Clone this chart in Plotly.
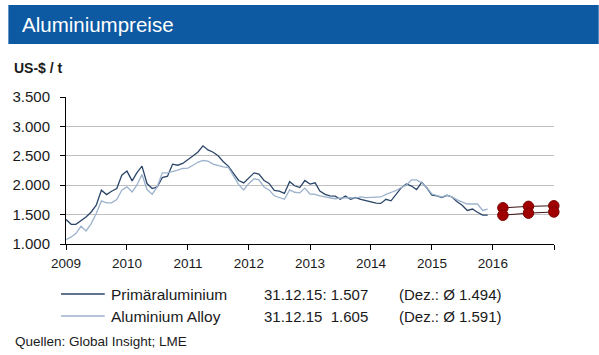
import pandas as pd
import plotly.graph_objects as go

# ---- data (US$/t, monthly averages Jan 2009 - Dec 2015) ----
months = pd.date_range("2009-01-01", "2015-12-01", freq="MS")

primaer = [
    1415, 1335, 1335, 1403, 1460, 1545, 1660, 1915, 1840, 1898, 1943, 2170,   # 2009
    2240, 2074, 2210, 2324, 2028, 1943, 1970, 2130, 2153, 2358, 2340, 2370,   # 2010
    2440, 2500, 2560, 2670, 2600, 2560, 2500, 2400, 2320, 2200, 2080, 2040,   # 2011
    2130, 2210, 2190, 2080, 2030, 1910, 1900, 1860, 2060, 1990, 1960, 2080,   # 2012
    2020, 2040, 1900, 1845, 1820, 1815, 1760, 1815, 1760, 1790, 1760, 1735,   # 2013
    1720, 1695, 1690, 1760, 1735, 1840, 1955, 2020, 1985, 1925, 2050, 1955,   # 2014
    1830, 1817, 1790, 1828, 1800, 1720, 1660, 1570, 1594, 1540, 1490, 1490,   # 2015
]
alloy = [
    1074, 1120, 1176, 1301, 1222, 1347, 1517, 1733, 1700, 1700, 1756, 1915,   # 2009
    1972, 1886, 2000, 2182, 1926, 1847, 1972, 2210, 2210, 2227, 2255, 2284,   # 2010
    2290, 2340, 2390, 2420, 2410, 2360, 2330, 2310, 2300, 2150, 2010, 1920,   # 2011
    2030, 2110, 2090, 1970, 1920, 1820, 1790, 1760, 1920, 1880, 1870, 1950,   # 2012
    1850, 1845, 1820, 1800, 1790, 1770, 1780, 1790, 1790, 1780, 1800, 1790,   # 2013
    1790, 1790, 1800, 1845, 1880, 1910, 1960, 2000, 2090, 2090, 2040, 1960,   # 2014
    1850, 1830, 1800, 1830, 1800, 1750, 1720, 1680, 1680, 1680, 1570, 1595,   # 2015
]

prognose_dates = ["2016-03-01", "2016-08-01", "2016-12-31"]
prognose_alloy = [1615, 1640, 1650]
prognose_primaer = [1490, 1525, 1545]

year_ticks = [f"{y}-01-01" for y in range(2009, 2018)]
year_labels = [str(y) for y in range(2009, 2017)] + [""]
y_ticks = [1000, 1500, 2000, 2500, 3000, 3500]
y_labels = ["1.000", "1.500", "2.000", "2.500", "3.000", "3.500"]

legend_names = ["Primäraluminium", "Aluminium Alloy"]
legend_last = ["31.12.15: 1.507", "31.12.15  1.605"]
legend_avg = ["(Dez.: Ø 1.494)", "(Dez.: Ø 1.591)"]

# ---- styling ----
C_PRIM = "#2b4669"
C_ALLOY = "#9cb2cc"
C_RED = "#a00000"
FONT = "Arial, Liberation Sans, sans-serif"
TXT = "#1a1a1a"

W, H = 599, 355
L, R, T, B = 63, 554, 97, 244  # plot area in px


def px(x):
    return (x - L) / (R - L)


def py(y):
    return (B - y) / (B - T)


fig = go.Figure()
fig.add_trace(go.Scatter(x=months, y=primaer, mode="lines",
                         line=dict(color=C_PRIM, width=1.3), showlegend=False))
fig.add_trace(go.Scatter(x=months, y=alloy, mode="lines",
                         line=dict(color=C_ALLOY, width=1.3), showlegend=False))
for vals in (prognose_alloy, prognose_primaer):
    fig.add_trace(go.Scatter(
        x=prognose_dates, y=vals, mode="lines+markers", cliponaxis=False,
        line=dict(color="#3a1010", width=1),
        marker=dict(color=C_RED, size=10.5, line=dict(color="#7a0000", width=1)),
        showlegend=False))

fig.update_layout(
    width=W, height=H,
    margin=dict(l=L, r=W - R, t=T, b=H - B),
    paper_bgcolor="white", plot_bgcolor="white",
    font=dict(family=FONT, size=13, color=TXT),
    showlegend=False,
)
fig.update_xaxes(
    type="date", range=["2009-01-01", "2017-01-01"],
    tickmode="array", tickvals=year_ticks, ticktext=year_labels,
    showgrid=False, showline=True, linecolor="black", linewidth=1,
    ticks="outside", ticklen=5, tickcolor="black", ticklabelstandoff=2,
    tickfont=dict(size=13.5, family=FONT, color=TXT), zeroline=False,
)
fig.update_yaxes(
    range=[1000, 3500], tickmode="array", tickvals=y_ticks, ticktext=y_labels,
    showgrid=True, gridcolor="#c0c0c0", gridwidth=1,
    showline=True, linecolor="black", linewidth=1,
    ticks="outside", ticklen=5, tickcolor="black", ticklabelstandoff=7,
    tickfont=dict(size=15, family=FONT, color=TXT), zeroline=False,
)

shapes = []
annotations = []
# header band
shapes.append(dict(type="rect", xref="paper", yref="paper",
                   x0=px(5), x1=px(599), y0=py(44), y1=py(5),
                   fillcolor="#0d5aa3", line=dict(width=0), layer="below"))
annotations.append(dict(text="Aluminiumpreise", xref="paper", yref="paper",
                        x=px(17), y=py(25), xanchor="left", yanchor="middle",
                        showarrow=False, font=dict(size=20.5, color="white", family=FONT)))
annotations.append(dict(text="<b>US-$ / t</b>", xref="paper", yref="paper",
                        x=px(9), y=py(68), xanchor="left", yanchor="middle",
                        showarrow=False, font=dict(size=14, color=TXT, family=FONT)))

# legend rows
row_y = [294, 316]
for i, (name, last, avg, col) in enumerate(zip(legend_names, legend_last, legend_avg,
                                                [C_PRIM, C_ALLOY])):
    shapes.append(dict(type="line", xref="paper", yref="paper",
                       x0=px(58), x1=px(102), y0=py(row_y[i]), y1=py(row_y[i]),
                       line=dict(color=col, width=1.3)))
    annotations.append(dict(text=name, xref="paper", yref="paper",
                            x=px(106), y=py(row_y[i]), xanchor="left",
                            yanchor="middle", showarrow=False,
                            font=dict(size=15.5, color=TXT, family=FONT)))
    for text, xpos in ((last, 260), (avg, 396)):
        annotations.append(dict(text=text, xref="paper", yref="paper",
                                x=px(xpos), y=py(row_y[i]), xanchor="left",
                                yanchor="middle", showarrow=False,
                                font=dict(size=15, color=TXT, family=FONT)))
annotations.append(dict(text="Quellen: Global Insight; LME", xref="paper", yref="paper",
                        x=px(10), y=py(341), xanchor="left", yanchor="middle",
                        showarrow=False, font=dict(size=13.5, color=TXT, family=FONT)))

fig.update_layout(shapes=shapes, annotations=annotations)
fig.write_html("out.html", config={"displayModeBar": False},
               post_script="document.body.style.margin='0';")
